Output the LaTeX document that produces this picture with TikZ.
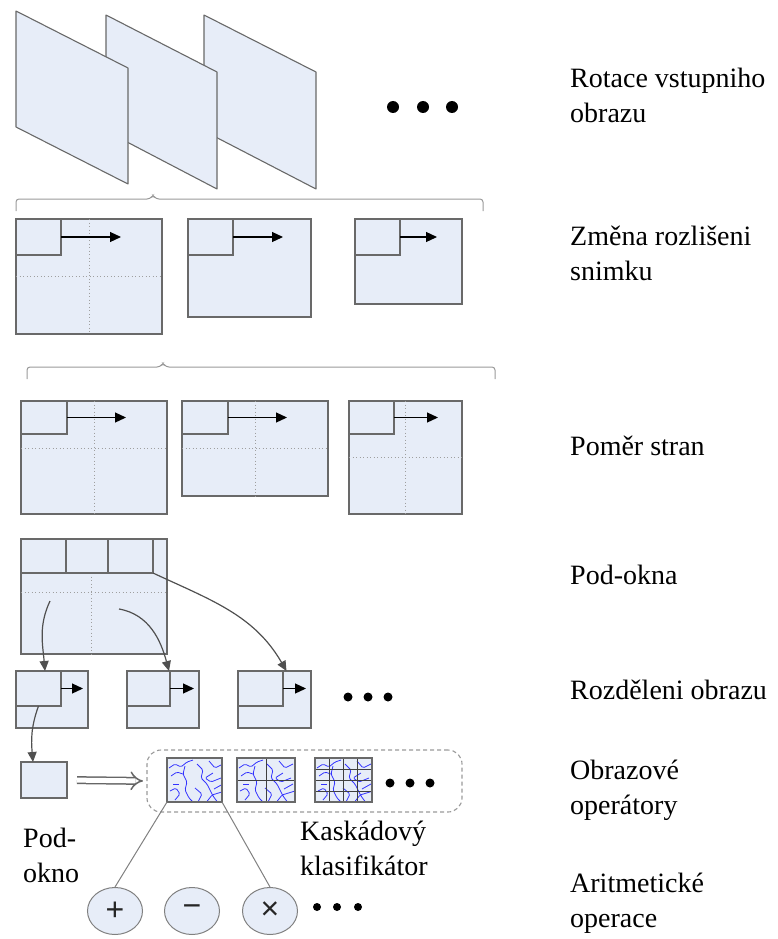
\documentclass[tikz,border=0pt]{standalone}
\usepackage{fontspec}
\setmainfont{Liberation Serif}
\newfontfamily\opfont{Liberation Sans}
\usetikzlibrary{shapes.geometric,arrows.meta,calc}

\definecolor{winblue}{RGB}{231,237,248}
\definecolor{framegray}{RGB}{105,105,105}
\definecolor{linegray}{RGB}{80,80,80}

% blue feature texture inside one operator box
\newcommand{\texture}[1]{%
  \begin{scope}
    \clip (#1.south west) rectangle (#1.north east);
    \begin{scope}[shift={(#1.north west)}]
      \draw[squig] (2,-10) -- (8,-6) -- (14,-9) -- (20,-4) -- (26,-2);
      \draw[squig] (4,-18) -- (10,-14) -- (16,-16);
      \draw[squig] (18,-8) -- (16,-16) -- (20,-24) -- (18,-32) -- (22,-40) -- (28,-46);
      \draw[squig] (6,-26) -- (12,-26);
      \draw[squig] (3,-33) -- (9,-30) -- (13,-36) -- (8,-42);
      \draw[squig] (30,-6) -- (36,-12) -- (34,-20) -- (40,-26) -- (46,-38) -- (52,-46);
      \draw[squig] (42,-3) -- (48,-10) -- (56,-6);
      \draw[squig] (46,-15) -- (38,-20) -- (44,-24) -- (54,-20);
      \draw[squig] (28,-30) -- (35,-36) -- (31,-44);
      \draw[squig] (47,-31) -- (56,-26);
      \draw[squig] (38,-46) -- (45,-37) -- (58,-33);
    \end{scope}
  \end{scope}}

\begin{document}
\begin{tikzpicture}[
  x=1pt, y=1pt,
  win/.style={rectangle, draw=framegray, line width=1.5pt, fill=winblue, inner sep=0pt, outer sep=0pt, anchor=north west},
  page/.style={draw=framegray, line width=1.1pt, fill=winblue, line join=round},
  grid/.style={draw=gray!75, line width=0.9pt, dash pattern=on 1.2pt off 2.3pt},
  slide/.style={-{Triangle[length=11pt,width=10pt]}, line width=1.2pt, draw=black},
  curv/.style={-{Triangle[length=10pt,width=9pt]}, line width=1.2pt, draw=linegray},
  brace/.style={draw=gray!80, line width=1pt, rounded corners=3pt},
  dot/.style={circle, fill=black, inner sep=0pt, minimum size=#1},
  dot/.default=9pt,
  lbl/.style={anchor=base west, align=left, inner sep=0pt, font=\fontsize{28}{35}\selectfont},
  group/.style={rectangle, draw=gray!80, line width=1.1pt, dash pattern=on 4pt off 3pt, rounded corners=14pt, inner sep=0pt, outer sep=0pt, anchor=north west},
  feat/.style={win, line width=1.3pt},
  cell/.style={draw=black!75, line width=0.9pt},
  squig/.style={draw=blue!80, line width=0.8pt, rounded corners=1.5pt},
  op/.style={ellipse, draw=gray, fill=winblue, line width=1pt, minimum width=55pt, minimum height=47pt, inner sep=0pt, font=\opfont\fontsize{32}{32}\selectfont, text=black!85},
  hollow/.style={draw=black!60, double=white, double distance=5pt, line width=1.5pt, -{Implies}},
  link/.style={draw=gray, line width=1pt}
]
\useasboundingbox (0,0) rectangle (778,-939);

% rotated input images
\draw[page] (204,-15) -- (316,-72) -- (316,-189) -- (204,-131) -- cycle;
\draw[page] (106,-15) -- (217,-72) -- (217,-189) -- (106,-131) -- cycle;
\draw[page] (16,-11) -- (128,-68) -- (128,-184) -- (16,-127) -- cycle;
\node[dot=12pt] (rd1) at (393,-107) {};
\node[dot=12pt] (rd2) at (423,-107) {};
\node[dot=12pt] (rd3) at (452,-107) {};

\draw[brace] (16,-211) -- (16,-199) -- (150,-199) -- (153,-195) -- (156,-199) -- (483,-199) -- (483,-211);

% scale change
\node[win, minimum width=146pt, minimum height=115pt] (s1) at (16,-219) {};
\draw[grid] (s1.north) -- (s1.south);
\draw[grid] (s1.west) -- (s1.east);
\node[win, minimum width=45pt, minimum height=36pt] (s1w) at (s1.north west) {};
\coordinate (s1e) at ([xshift=60pt]s1w.east);
\draw[slide] (s1w.east) -- (s1e);

\node[win, minimum width=123pt, minimum height=98pt] (s2) at (188,-219) {};
\node[win, minimum width=45pt, minimum height=36pt] (s2w) at (s2.north west) {};
\coordinate (s2e) at ([xshift=50pt]s2w.east);
\draw[slide] (s2w.east) -- (s2e);

\node[win, minimum width=107pt, minimum height=85pt] (s3) at (355,-219) {};
\node[win, minimum width=45pt, minimum height=36pt] (s3w) at (s3.north west) {};
\coordinate (s3e) at ([xshift=37pt]s3w.east);
\draw[slide] (s3w.east) -- (s3e);

\draw[brace] (27,-379) -- (27,-367) -- (160,-367) -- (163,-363) -- (166,-367) -- (495,-367) -- (495,-379);

% aspect ratio
\node[win, minimum width=146pt, minimum height=113pt] (a1) at (21,-401) {};
\draw[grid] (a1.north) -- (a1.south);
\draw[grid] (a1.west |- 0,-448) -- (a1.east |- 0,-448);
\node[win, minimum width=46pt, minimum height=33pt] (a1w) at (a1.north west) {};
\coordinate (a1e) at ([xshift=59pt]a1w.east);
\draw[slide] (a1w.east) -- (a1e);

\node[win, minimum width=146pt, minimum height=95pt] (a2) at (182,-401) {};
\draw[grid] (a2.north) -- (a2.south);
\draw[grid] (a2.west) -- (a2.east);
\node[win, minimum width=46pt, minimum height=33pt] (a2w) at (a2.north west) {};
\coordinate (a2e) at ([xshift=59pt]a2w.east);
\draw[slide] (a2w.east) -- (a2e);

\node[win, minimum width=113pt, minimum height=113pt] (a3) at (349,-401) {};
\draw[grid] (a3.north) -- (a3.south);
\draw[grid] (a3.west) -- (a3.east);
\node[win, minimum width=45pt, minimum height=33pt] (a3w) at (a3.north west) {};
\coordinate (a3e) at ([xshift=44pt]a3w.east);
\draw[slide] (a3w.east) -- (a3e);

% sub-windows
\node[win, minimum width=146pt, minimum height=115pt] (p) at (21,-539) {};
\draw[grid] (91,-573) -- (p.south -| 91,0);
\draw[grid] (p.west |- 0,-592) -- (p.east |- 0,-592);
\node[win, minimum width=45pt, minimum height=34pt] (p1) at (p.north west) {};
\node[win, minimum width=42pt, minimum height=34pt] (p2) at (p1.north east) {};
\node[win, minimum width=45pt, minimum height=34pt] (p3) at (p2.north east) {};

% image split
\node[win, minimum width=72pt, minimum height=57pt] (r1) at (16,-671) {};
\node[win, minimum width=45pt, minimum height=35pt] (r1w) at (r1.north west) {};
\coordinate (r1e) at ([xshift=22pt]r1w.east);
\draw[slide] (r1w.east) -- (r1e);

\node[win, minimum width=72pt, minimum height=57pt] (r2) at (127,-671) {};
\node[win, minimum width=43pt, minimum height=35pt] (r2w) at (r2.north west) {};
\coordinate (r2e) at ([xshift=24pt]r2w.east);
\draw[slide] (r2w.east) -- (r2e);

\node[win, minimum width=73pt, minimum height=57pt] (r3) at (238,-671) {};
\node[win, minimum width=45pt, minimum height=35pt] (r3w) at (r3.north west) {};
\coordinate (r3e) at ([xshift=23pt]r3w.east);
\draw[slide] (r3w.east) -- (r3e);

\node[dot] (sd1) at (348,-697) {};
\node[dot] (sd2) at (368,-697) {};
\node[dot] (sd3) at (388,-697) {};

\coordinate (c1) at (50,-601);
\coordinate (c2) at (119,-609);
\coordinate (t1) at ([xshift=-7pt]r1.north);
\coordinate (t2) at ([xshift=6pt]r2.north);
\coordinate (t3) at ([xshift=12pt]r3.north);
\draw[curv] (c1) to[out=245, in=95] (t1);
\draw[curv] (c2) to[out=-10, in=105] (t2);
\draw[curv] (p3.south east) to[out=-25, in=120] (t3);

% image operators
\node[win, minimum width=46pt, minimum height=36pt] (sub) at (21,-762) {};
\coordinate (t4) at ([xshift=-11pt]sub.north);
\draw[curv] (r1w.south) to[out=250, in=95] (t4);

\node[group, minimum width=315pt, minimum height=62pt] (kask) at (147,-750) {};
\draw[hollow, shorten <=10pt, shorten >=4pt] (sub.east) -- (kask.west);

\node[feat, minimum width=55pt, minimum height=44pt] (fa) at (167,-758) {};
\node[feat, minimum width=58pt, minimum height=44pt] (fb) at (237,-758) {};
\node[feat, minimum width=57pt, minimum height=44pt] (fc) at (315,-758) {};
\texture{fa}
\texture{fb}
\texture{fc}
\draw[cell] (fb.north) -- (fb.south);
\draw[cell] (fb.west) -- (fb.east);
\foreach \f in {0.25,0.5,0.75} {
  \draw[cell] ($(fc.north west)!\f!(fc.north east)$) -- ($(fc.south west)!\f!(fc.south east)$);
  \draw[cell] ($(fc.north west)!\f!(fc.south west)$) -- ($(fc.north east)!\f!(fc.south east)$);
}
\draw[feat, fill=none] (fa.south west) rectangle (fa.north east);
\draw[feat, fill=none] (fb.south west) rectangle (fb.north east);
\draw[feat, fill=none] (fc.south west) rectangle (fc.north east);

\node[dot] (kd1) at (390,-783) {};
\node[dot] (kd2) at (410,-783) {};
\node[dot] (kd3) at (430,-783) {};

% arithmetic operations
\node[op] (plus) at (115,-911) {+};
\node[op] (minus) at (192,-911) {−};
\node[op] (times) at (270,-911) {×};
\draw[link] (fa.south west) -- (plus.north);
\draw[link] (fa.south east) -- (times.north);
\node[dot=8pt] (od1) at (317,-907) {};
\node[dot=8pt] (od2) at (337,-907) {};
\node[dot=8pt] (od3) at (358,-907) {};

% labels (base = last line)
\node[lbl] (subl) at (23,-882) {Pod-\\okno};
\node[lbl] (kasl) at (300,-875) {Kaskádový\\klasifikátor};

\node[lbl] (l1) at (570,-122) {Rotace vstupniho\\obrazu};
\node[lbl] (l2) at (570,-280) {Změna rozlišeni\\snimku};
\node[lbl] (l3) at (570,-455) {Poměr stran};
\node[lbl] (l4) at (570,-584) {Pod-okna};
\node[lbl] (l5) at (570,-699) {Rozděleni obrazu};
\node[lbl] (l6) at (570,-814) {Obrazové\\operátory};
\node[lbl] (l7) at (570,-927) {Aritmetické\\operace};
\end{tikzpicture}
\end{document}
